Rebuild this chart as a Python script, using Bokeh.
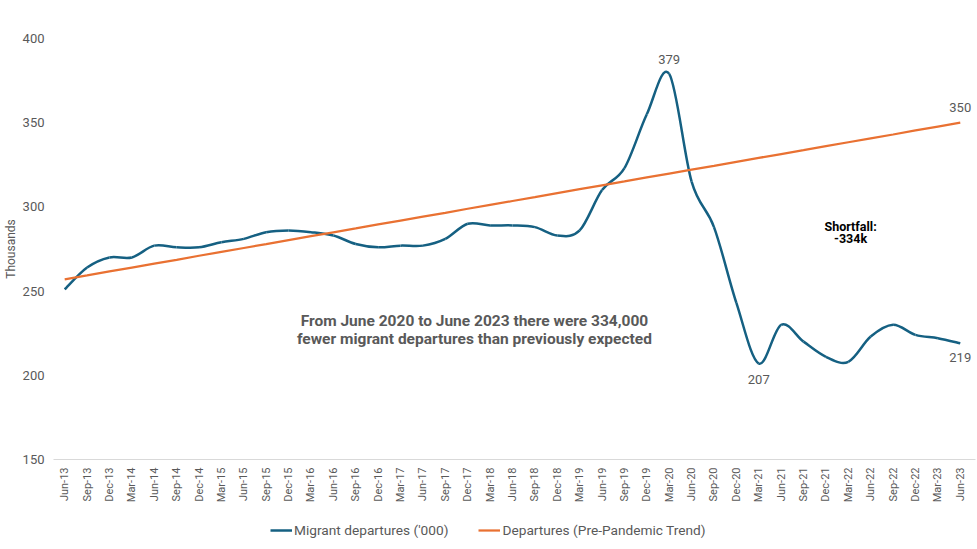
import numpy as np
from bokeh.plotting import figure
from bokeh.layouts import column
from bokeh.models import Range1d, FixedTicker, Legend, LegendItem, Label
from bokeh.embed import file_html
from bokeh.resources import INLINE

quarters = ["Jun-13", "Sep-13", "Dec-13", "Mar-14", "Jun-14", "Sep-14", "Dec-14",
            "Mar-15", "Jun-15", "Sep-15", "Dec-15", "Mar-16", "Jun-16", "Sep-16",
            "Dec-16", "Mar-17", "Jun-17", "Sep-17", "Dec-17", "Mar-18", "Jun-18",
            "Sep-18", "Dec-18", "Mar-19", "Jun-19", "Sep-19", "Dec-19", "Mar-20",
            "Jun-20", "Sep-20", "Dec-20", "Mar-21", "Jun-21", "Sep-21", "Dec-21",
            "Mar-22", "Jun-22", "Sep-22", "Dec-22", "Mar-23", "Jun-23"]

migrant = [251, 264, 270, 270, 277, 276, 276, 279, 281, 285, 286, 285, 283, 278,
           276, 277, 277, 281, 290, 289, 289, 288, 283, 286, 310, 323, 355, 379,
           315, 288, 243, 207, 230, 220, 211, 208, 223, 230, 224, 222, 219]

trend = [257.0, 259.3, 261.7, 264.0, 266.3, 268.6, 271.0, 273.3, 275.6, 277.9,
         280.3, 282.6, 284.9, 287.2, 289.6, 291.9, 294.2, 296.5, 298.9, 301.2,
         303.5, 305.8, 308.2, 310.5, 312.8, 315.1, 317.5, 319.8, 322.1, 324.4,
         326.8, 329.1, 331.4, 333.7, 336.1, 338.4, 340.7, 343.0, 345.4, 347.7,
         350.0]

y_ticks = [150, 200, 250, 300, 350, 400]

BLUE = "#156082"
ORANGE = "#E97132"
GREY = "#595959"
FONT = "Roboto"

p = figure(width=976, height=514, output_backend="svg", toolbar_location=None,
           x_range=Range1d(-0.5, len(quarters) - 0.32), y_range=Range1d(150, 400),
           min_border_left=52, min_border_right=1, min_border_top=38,
           min_border_bottom=55)
p.outline_line_color = None
p.xgrid.grid_line_color = None
p.ygrid.grid_line_color = None
p.background_fill_color = "white"

# smoothed migrant line (Catmull-Rom style bezier through data points)
xs = np.arange(len(migrant), dtype=float)
ys = np.array(migrant, dtype=float)
n = len(xs)
bz = dict(x0=[], y0=[], x1=[], y1=[], cx0=[], cy0=[], cx1=[], cy1=[])
for i in range(n - 1):
    im, ip = max(i - 1, 0), min(i + 2, n - 1)
    bz["x0"].append(xs[i]); bz["y0"].append(ys[i])
    bz["x1"].append(xs[i + 1]); bz["y1"].append(ys[i + 1])
    bz["cx0"].append(xs[i] + (xs[i + 1] - xs[im]) / 6)
    bz["cy0"].append(ys[i] + (ys[i + 1] - ys[im]) / 6)
    bz["cx1"].append(xs[i + 1] - (xs[ip] - xs[i]) / 6)
    bz["cy1"].append(ys[i + 1] - (ys[ip] - ys[i]) / 6)
p.bezier(line_color=BLUE, line_width=2.5, **bz)
p.line(xs, trend, line_color=ORANGE, line_width=2.25)

# axes
xa = p.xaxis[0]
xa.ticker = FixedTicker(ticks=list(range(len(quarters))))
xa.major_label_overrides = {i: q for i, q in enumerate(quarters)}
xa.major_label_orientation = np.pi / 2
xa.major_tick_line_color = None
xa.minor_tick_line_color = None
xa.major_tick_out = 0
xa.major_tick_in = 0
xa.minor_tick_out = 0
xa.axis_line_color = "#D9D9D9"
xa.major_label_text_color = GREY
xa.major_label_text_font = FONT
xa.major_label_text_font_size = "11px"
xa.major_label_standoff = 8

ya = p.yaxis[0]
ya.ticker = FixedTicker(ticks=y_ticks)
ya.axis_line_color = None
ya.major_tick_line_color = None
ya.minor_tick_line_color = None
ya.major_tick_out = 0
ya.major_tick_in = 0
ya.minor_tick_out = 0
ya.major_label_text_color = GREY
ya.major_label_text_font = FONT
ya.major_label_text_font_size = "13px"
ya.major_label_standoff = 9
ya.axis_label = "Thousands"
ya.axis_label_text_font = FONT
ya.axis_label_text_font_style = "normal"
ya.axis_label_text_font_size = "12px"
ya.axis_label_text_color = GREY
ya.axis_label_standoff = 2

# data labels
def dlabel(i, series, dy):
    p.add_layout(Label(x=i, y=series[i], text=str(int(round(series[i]))),
                       y_offset=dy, text_align="center", text_baseline="middle",
                       text_font=FONT, text_font_size="13px", text_color=GREY))

dlabel(27, migrant, 14)
dlabel(31, migrant, -16)
dlabel(40, migrant, -14)
dlabel(40, trend, 15)

# annotations
for txt, yv in [("From June 2020 to June 2023 there were 334,000", 232),
                ("fewer migrant departures than previously expected", 221.5)]:
    p.add_layout(Label(x=18.3, y=yv, text=txt, text_align="center",
                       text_baseline="middle", text_font=FONT,
                       text_font_size="15.5px", text_font_style="bold",
                       text_color=GREY))
for txt, yv in [("Shortfall:", 288.5), ("-334k", 281.3)]:
    p.add_layout(Label(x=35.1, y=yv, text=txt, text_align="center",
                       text_baseline="middle", text_font=FONT,
                       text_font_size="12.5px", text_font_style="bold",
                       text_color="black"))

# legend strip (same series, drawn outside its visible range)
lg = figure(width=976, height=34, output_backend="svg", toolbar_location=None,
            x_range=Range1d(1000, 1001), y_range=Range1d(0, 1),
            min_border_left=0, min_border_right=0, min_border_top=0,
            min_border_bottom=0)
lg.axis.visible = False
lg.grid.visible = False
lg.outline_line_color = None
l_mig = lg.bezier(line_color=BLUE, line_width=2.5, **bz)
l_trend = lg.line(xs, trend, line_color=ORANGE, line_width=2.25)
legend = Legend(items=[LegendItem(label="Migrant departures ('000)", renderers=[l_mig]),
                       LegendItem(label="Departures (Pre-Pandemic Trend)", renderers=[l_trend])],
                orientation="horizontal", location=(217, 10),
                border_line_color=None, background_fill_alpha=0,
                label_text_font=FONT, label_text_font_size="13.7px",
                label_text_color=GREY, glyph_width=22, glyph_height=14,
                label_height=14, label_standoff=2, spacing=30, padding=0, margin=0)
lg.add_layout(legend, "center")

open("out.html", "w").write(file_html(column(p, lg, spacing=0), INLINE))
